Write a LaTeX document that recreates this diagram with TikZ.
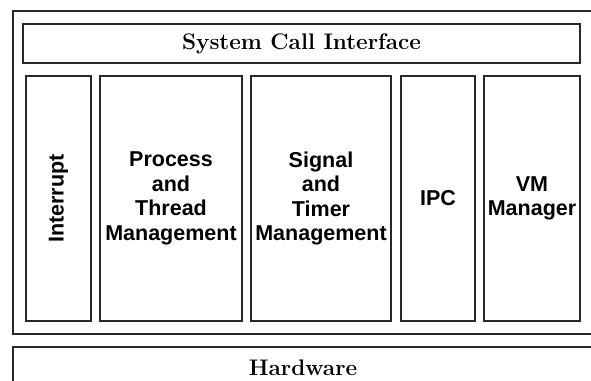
\documentclass[tikz,border=0pt]{standalone}
\usepackage{fontspec}
\usepackage{tikz}
\newfontfamily\colfont{Liberation Sans}
\definecolor{inkdark}{RGB}{40, 40, 40}
\tikzset{
    frame/.style  ={draw=inkdark, line width=1.5pt, fill=white,
                    inner sep=0pt, outer sep=0pt},
    bar/.style    ={frame, font=\fontsize{22.5}{25}\selectfont\bfseries},
    col/.style    ={frame, minimum height=245pt, align=center,
                    font=\colfont\fontsize{21.5}{24.5}\selectfont\bfseries}
}

\begin{document}
\begin{tikzpicture}[x=1pt, y=-1pt]
  \useasboundingbox (0,0) rectangle (591,380);
  \clip (0,0) rectangle (591,380);
  % kernel frame
  \node[frame, minimum width=580pt, minimum height=323pt] (kernel) at (303,172.5) {};
  \node[bar, minimum width=557pt, minimum height=39pt] (sci) at (301.5,43.5) {System Call Interface};
  % subsystems
  \node[col, minimum width=65pt]  (intr) at (58.5,198.5) {\rotatebox{90}{Interrupt}};
  \node[col, minimum width=142pt] (proc) at (171,198.5)  {Process\\and\\Thread\\Management};
  \node[col, minimum width=140pt] (sig)  at (321,198.5)  {Signal\\and\\Timer\\Management};
  \node[col, minimum width=74pt]  (ipc)  at (438,198.5)  {IPC};
  \node[col, minimum width=96pt]  (vm)   at (532,198.5)  {VM\\Manager};
  % hardware
  \node[bar, minimum width=580pt, minimum height=41pt] (hw) at (303,367.5) {Hardware};
\end{tikzpicture}
\end{document}
